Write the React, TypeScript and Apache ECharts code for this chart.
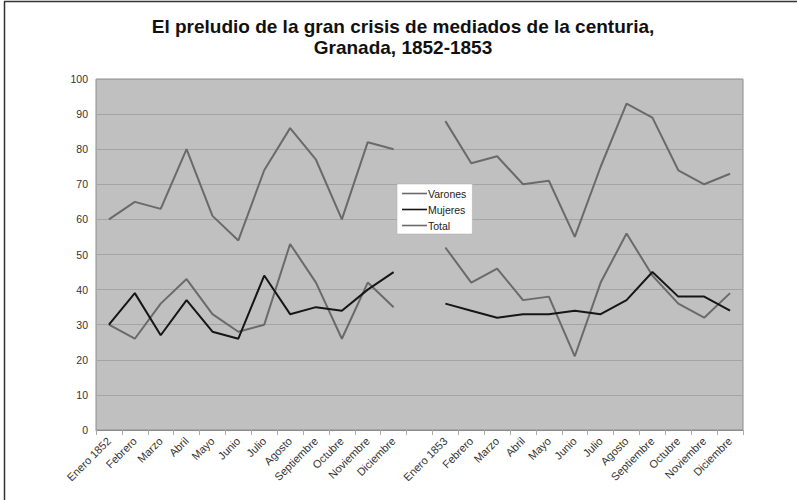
import React, { useEffect, useRef } from "react";
import * as echarts from "echarts";

const months = ["Enero", "Febrero", "Marzo", "Abril", "Mayo", "Junio", "Julio", "Agosto", "Septiembre", "Octubre", "Noviembre", "Diciembre"];
const categories = [
  "Enero 1852", ...months.slice(1),
  "",
  "Enero 1853", ...months.slice(1),
];

const varones1852 = [30, 26, 36, 43, 33, 28, 30, 53, 42, 26, 42, 35];
const mujeres1852 = [30, 39, 27, 37, 28, 26, 44, 33, 35, 34, 40, 45];
const total1852 = [60, 65, 63, 80, 61, 54, 74, 86, 77, 60, 82, 80];
const varones1853 = [52, 42, 46, 37, 38, 21, 42, 56, 44, 36, 32, 39];
const mujeres1853 = [36, 34, 32, 33, 33, 34, 33, 37, 45, 38, 38, 34];
const total1853 = [88, 76, 78, 70, 71, 55, 75, 93, 89, 74, 70, 73];

const yTicks = { min: 0, max: 100, interval: 10 };

const join = (a: number[], b: number[]) => [...a, null, ...b];

export default function App() {
  const ref = useRef<HTMLDivElement>(null);
  useEffect(() => {
    if (!ref.current) return;
    const chart = echarts.init(ref.current, null, { renderer: "svg" });
    const font = "Arial, 'Liberation Sans', sans-serif";
    const lineSeries = (name: string, data: (number | null)[], color: string) => ({
      name,
      type: "line",
      data,
      symbol: "none",
      connectNulls: false,
      lineStyle: { color, width: 2 },
      itemStyle: { color },
    });
    chart.setOption({
      animation: false,
      backgroundColor: "#ffffff",
      title: {
        text: "El preludio de la gran crisis de mediados de la centuria,\nGranada, 1852-1853",
        left: 398,
        textAlign: "center",
        top: 11,
        textStyle: { fontFamily: font, fontSize: 19, fontWeight: "bold", color: "#111", lineHeight: 21 },
      },
      legend: {
        left: 397,
        top: 184,
        orient: "vertical",
        backgroundColor: "#ffffff",
        borderColor: "#aaaaaa",
        borderWidth: 0.5,
        padding: [4, 6, 3, 5],
        itemGap: 5,
        itemWidth: 25,
        itemHeight: 11,
        icon: "path://M0,4.8 H25 V6.4 H0 Z",
        textStyle: { fontFamily: font, fontSize: 10.5, color: "#222", padding: [0, 0, 0, -4] },
        data: ["Varones", "Mujeres", "Total"],
      },
      grid: { left: 96, top: 79, right: 54, bottom: 70, show: true, backgroundColor: "#c0c0c0", borderColor: "#8c8c8c", borderWidth: 1 },
      xAxis: {
        type: "category",
        data: categories,
        boundaryGap: true,
        axisLine: { lineStyle: { color: "#8c8c8c" } },
        axisTick: { show: true, alignWithLabel: false, lineStyle: { color: "#aaaaaa" } },
        axisLabel: { rotate: 45, interval: 0, fontFamily: font, fontSize: 11, color: "#333", margin: 9 },
        splitLine: { show: false },
      },
      yAxis: {
        type: "value",
        min: yTicks.min,
        max: yTicks.max,
        interval: yTicks.interval,
        axisLine: { show: false },
        axisTick: { show: false },
        axisLabel: { fontFamily: font, fontSize: 10.5, color: "#333", margin: 8 },
        splitLine: { lineStyle: { color: "#a4a4a4", width: 1 } },
      },
      graphic: [
        { type: "line", shape: { x1: 4.5, y1: 1.5, x2: 4.5, y2: 500 }, style: { stroke: "#333", lineWidth: 1.5 } },
        { type: "line", shape: { x1: 4, y1: 1.5, x2: 797, y2: 1.5 }, style: { stroke: "#333", lineWidth: 1.5 } },
      ],
      series: [
        lineSeries("Varones", join(varones1852, varones1853), "#6a6a6a"),
        lineSeries("Mujeres", join(mujeres1852, mujeres1853), "#161616"),
        lineSeries("Total", join(total1852, total1853), "#6a6a6a"),
      ],
    });
    return () => chart.dispose();
  }, []);
  return <div ref={ref} style={{ position: "absolute", left: 0, top: 0, width: 797, height: 500 }} />;
}
